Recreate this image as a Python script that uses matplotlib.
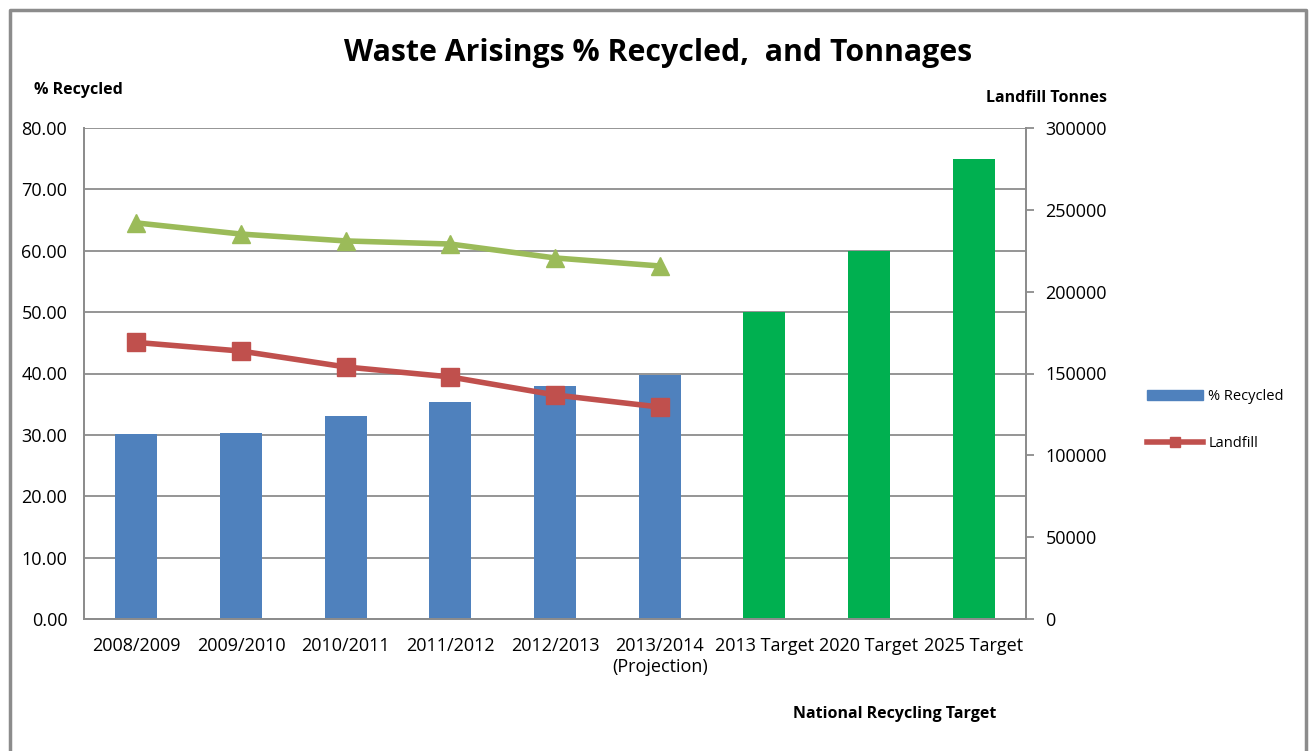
import matplotlib.pyplot as plt
import numpy as np
from matplotlib.lines import Line2D
from matplotlib.patches import Patch

plt.rcParams['font.family'] = ['Open Sans', 'DejaVu Sans']

categories = ["2008/2009", "2009/2010", "2010/2011", "2011/2012", "2012/2013",
              "2013/2014\n(Projection)", "2013 Target", "2020 Target", "2025 Target"]
recycled = [30.1, 30.3, 33.1, 35.4, 37.9, 39.8]
targets = [50.0, 60.0, 75.0]
landfill = [169000, 163700, 154000, 147900, 136900, 129500]
arisings = [242000, 235200, 231000, 229100, 220600, 215700]

blue = "#4f81bd"
green_bar = "#00b050"
red = "#c0504d"
olive = "#9bbb59"
grey = "#8c8c8c"

fig = plt.figure(figsize=(13.11, 7.51), dpi=100)
ax = fig.add_axes([84 / 1311, 1 - 619 / 751, 942 / 1311, 491 / 751])
ax2 = ax.twinx()

x = np.arange(len(categories))
ax.bar(x[:6], recycled, width=0.4, color=blue, zorder=2)
ax.bar(x[6:], targets, width=0.4, color=green_bar, zorder=2)

ax.set_xlim(-0.5, len(categories) - 0.5)
ax.set_ylim(0, 80)
ax.set_yticks(np.arange(0, 81, 10))
ax.set_yticklabels([f"{v:.2f}" for v in np.arange(0, 81, 10)])
ax.yaxis.grid(True, color=grey, linewidth=1.3, zorder=0)
ax.set_axisbelow(True)
ax.set_xticks(x)
ax.set_xticklabels(categories)
ax.tick_params(axis='y', length=0, labelsize=13, pad=12)
ax.tick_params(axis='x', length=0, labelsize=13, pad=13)

ax2.plot(x[:6], arisings, color=olive, linewidth=4, marker='^', markersize=13, zorder=3)
ax2.plot(x[:6], landfill, color=red, linewidth=4, marker='s', markersize=13, zorder=3)
ax2.set_ylim(0, 300000)
ax2.set_yticks(np.arange(0, 300001, 50000))
ax2.tick_params(axis='y', length=6, color=grey, width=1.3, labelsize=13, pad=8)

for a in (ax, ax2):
    a.spines['top'].set_visible(False)
    for s in ('left', 'right', 'bottom'):
        a.spines[s].set_color(grey)
        a.spines[s].set_linewidth(1.3)

fig.text(658 / 1311, 1 - 53 / 751, "Waste Arisings % Recycled,  and Tonnages",
         ha='center', va='center', fontsize=21.8, fontweight='bold')
fig.text(78 / 1311, 1 - 90 / 751, "% Recycled", ha='center', va='center',
         fontsize=11.5, fontweight='bold')
fig.text(1046 / 1311, 1 - 98 / 751, "Landfill Tonnes", ha='center', va='center',
         fontsize=11.5, fontweight='bold')
fig.text(895 / 1311, 1 - 714 / 751, "National Recycling Target", ha='center',
         va='center', fontsize=11.5, fontweight='bold')

handles = [Patch(color=blue), Line2D([], [], color=red, linewidth=4, marker='s', markersize=7)]
fig.legend(handles, ["% Recycled", "Landfill"], loc='center left',
           bbox_to_anchor=(1134 / 1311, 1 - 420 / 751), frameon=False,
           fontsize=10.5, handlelength=3.8, labelspacing=2.2, handletextpad=0.4)

# outer chart frame
fig.add_artist(Line2D([10 / 1311, 10 / 1311, 1306 / 1311, 1306 / 1311],
                      [0, 1 - 10 / 751, 1 - 10 / 751, 0],
                      transform=fig.transFigure, color=grey, linewidth=2.5))

fig.savefig("out.png", dpi=100)
